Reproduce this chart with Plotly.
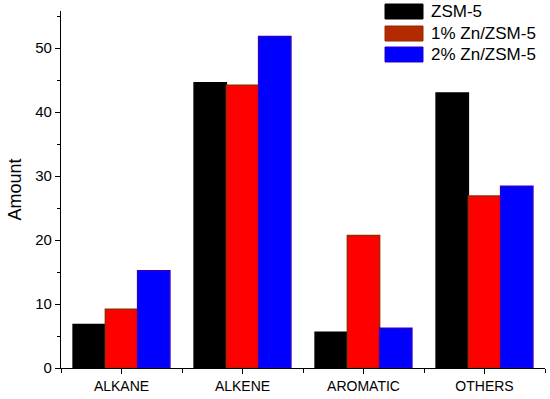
import plotly.graph_objects as go

categories = ["ALKANE", "ALKENE", "AROMATIC", "OTHERS"]
series_names = ["ZSM-5", "1% Zn/ZSM-5", "2% Zn/ZSM-5"]
zsm5 = [6.8, 44.6, 5.6, 43.0]
zn1 = [9.2, 44.2, 20.7, 26.9]
zn2 = [15.2, 51.8, 6.2, 28.4]

fills = ["#000000", "#FF0000", "#0000FF"]
edges = ["#000000", "#9A2A00", "#2A00C8"]
swatch_fills = ["#000000", "#B22A00", "#0000FF"]

W, H = 550, 399
L, R, T, B = 61, 5, 11, 31
pw, ph = W - L - R, H - T - B

def px_x(p):
    return (p - L) / pw

def px_y(p):
    return (H - B - p) / ph

x = list(range(len(categories)))
fig = go.Figure()
for name, vals, fc, ec in zip(series_names, [zsm5, zn1, zn2], fills, edges):
    fig.add_trace(go.Bar(x=x, y=vals, name=name, showlegend=False,
                         marker=dict(color=fc, line=dict(color=ec, width=1.5))))

# custom legend (wide swatches like the original)
rows = [(4, 19), (26, 41), (47, 62)]
for (y0, y1), name, sc, ec in zip(rows, series_names, swatch_fills, edges):
    fig.add_shape(type="rect", xref="paper", yref="paper",
                  x0=px_x(385), x1=px_x(423), y0=px_y(y1), y1=px_y(y0),
                  fillcolor=sc, line=dict(color=ec, width=1))
    fig.add_annotation(xref="paper", yref="paper", x=px_x(429), y=px_y((y0 + y1) / 2),
                       text=name, showarrow=False, xanchor="left", yanchor="middle",
                       font=dict(size=17, color="black"))

fig.update_layout(
    width=W, height=H,
    margin=dict(l=L, r=R, t=T, b=B),
    paper_bgcolor="white", plot_bgcolor="white",
    barmode="group", bargap=0.2, bargroupgap=0,
    font=dict(family="Arial, Liberation Sans, sans-serif", color="black"),
    showlegend=False,
)
fig.update_xaxes(
    range=[-0.5, 3.5], tickvals=x, ticktext=categories,
    showline=True, linecolor="black", linewidth=1.2,
    ticks="outside", ticklen=5, tickcolor="black",
    tickfont=dict(size=14), showgrid=False, zeroline=False,
    minor=dict(tickvals=[-0.5, 0.5, 1.5, 2.5, 3.5], ticks="outside", ticklen=4, tickcolor="black"),
)
fig.update_yaxes(
    range=[0, 55.8], dtick=10, tick0=0,
    showline=True, linecolor="black", linewidth=1.2,
    ticks="outside", ticklen=5, tickcolor="black",
    tickfont=dict(size=15), showgrid=False, zeroline=False,
    minor=dict(dtick=5, ticks="outside", ticklen=3, tickcolor="black"),
    title=dict(text="Amount", font=dict(size=18), standoff=8),
)
fig.write_html("out.html", config={"displayModeBar": False},
               post_script="document.body.style.margin='0';document.body.style.overflow='hidden';")
